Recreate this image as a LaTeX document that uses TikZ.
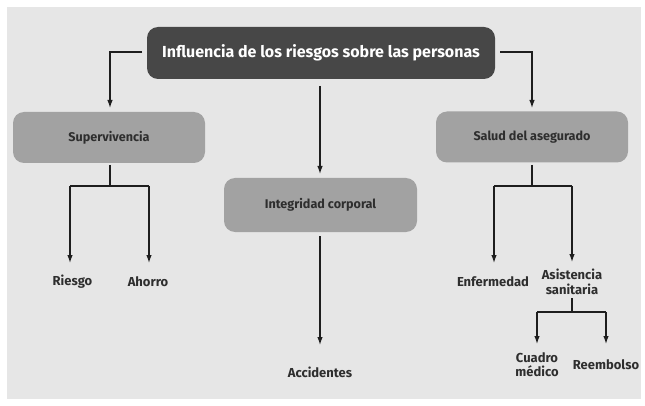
\documentclass[tikz,border=0pt]{standalone}
\usepackage{fontspec}
\setmainfont{Fira Sans}
\usetikzlibrary{arrows.meta}
\definecolor{bggray}{HTML}{E6E6E6}
\definecolor{darkbox}{HTML}{474747}
\definecolor{midbox}{HTML}{A2A2A2}
\definecolor{txtdark}{HTML}{2E2E2E}
\definecolor{linecol}{HTML}{1E1E1E}
\tikzset{
  topbox/.style={draw=none, fill=darkbox, rounded corners=11pt, minimum width=348pt, minimum height=52pt, text=white, font=\bfseries\fontsize{16}{18}\selectfont},
  catbox/.style={draw=none, fill=midbox, rounded corners=11pt, minimum width=192pt, minimum height=51pt, text=txtdark, font=\bfseries\fontsize{12.6}{14}\selectfont},
  leaf/.style={text=txtdark, font=\bfseries\fontsize{13}{15}\selectfont, align=center, inner sep=1pt},
  conn/.style={draw=linecol, line width=1.2pt},
  arr/.style={conn, -{Latex[length=8pt,width=5.5pt]}}
}
\begin{document}
\begin{tikzpicture}[x=1pt,y=-1pt]
\useasboundingbox (0,0) rectangle (645,406);
\fill[white] (0,0) rectangle (645,406);
\fill[bggray] (7,7) rectangle (641,399);
% nodes
\node[topbox] (top) at (321,53) {Influencia de los riesgos sobre las personas};
\node[catbox] (sup) at (109,137.5) {Supervivencia};
\node[catbox] (sal) at (532,137) {Salud del asegurado};
\node[catbox, minimum width=193pt, minimum height=54pt] (int) at (320.5,205) {Integridad corporal};
\node[leaf] (rie) at (72.5,282) {Riesgo};
\node[leaf] (aho) at (148,282) {Ahorro};
\node[leaf] (acc) at (320,372) {Accidentes};
\node[leaf] (enf) at (493,282) {Enfermedad};
\node[leaf, font=\bfseries\fontsize{13}{15}\selectfont] (asi) at (572,282) {Asistencia\\sanitaria};
\node[leaf, font=\bfseries\fontsize{13}{13.5}\selectfont] (cua) at (537,364.5) {Cuadro\\médico};
\node[leaf] (ree) at (606,365) {Reembolso};
% helper coordinates
\coordinate (tl) at (142,52);
\coordinate (tr) at (500,52);
\coordinate (tc) at (320,86);
\coordinate (ttip) at (320,174);
\coordinate (stip) at (110,108);
\coordinate (htip) at (532,108);
\coordinate (sb) at (110,165);
\coordinate (sj) at (110,186);
\coordinate (sl) at (70,186);
\coordinate (sr) at (149,186);
\coordinate (rtip) at (70,263);
\coordinate (atip) at (149,263);
\coordinate (hb) at (532,165);
\coordinate (hj) at (532,186);
\coordinate (hl) at (494,186);
\coordinate (hr) at (572,186);
\coordinate (etip) at (494,263);
\coordinate (stip2) at (572,262);
\coordinate (ib) at (320,236);
\coordinate (ctip) at (320,345);
\coordinate (ab) at (572,298);
\coordinate (aj) at (572,312);
\coordinate (al) at (537,312);
\coordinate (ar) at (606,312);
\coordinate (qtip) at (537,344);
\coordinate (mtip) at (606,344);
% connectors
\draw[arr] (tl) -| (stip);
\draw[arr] (tr) -| (htip);
\draw[arr] (tc) -- (ttip);
\draw[conn] (sb) -- (sj);
\draw[conn] (sl) -- (sr);
\draw[arr] (sl) -- (rtip);
\draw[arr] (sr) -- (atip);
\draw[conn] (hb) -- (hj);
\draw[conn] (hl) -- (hr);
\draw[arr] (hl) -- (etip);
\draw[arr] (hr) -- (stip2);
\draw[arr] (ib) -- (ctip);
\draw[conn] (ab) -- (aj);
\draw[conn] (al) -- (ar);
\draw[arr] (al) -- (qtip);
\draw[arr] (ar) -- (mtip);
\end{tikzpicture}
\end{document}
